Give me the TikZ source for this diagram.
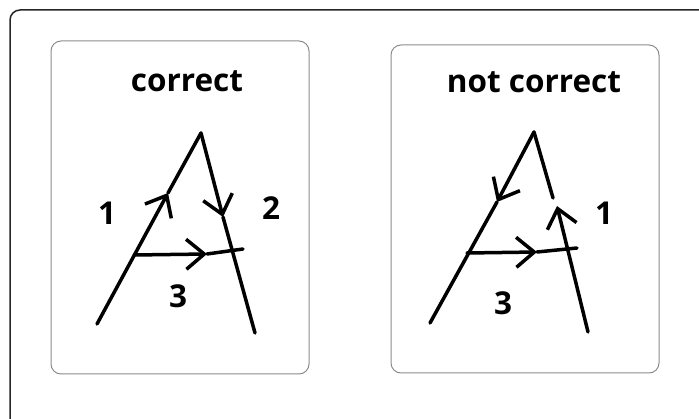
\documentclass[tikz,border=0pt]{standalone}
\usepackage{fontspec}
\setmainfont{Open Sans}
\usetikzlibrary{arrows.meta}

\tikzset{
  stroke/.style={line width=3.5pt, line cap=round, line join=round},
  barb/.style={-{Straight Barb[length=18pt,width=30pt]}},
  panel/.style={draw=black!45, line width=1pt, rounded corners=10pt},
  lbl/.style={font=\fontsize{31.5}{36}\selectfont\bfseries, inner sep=0pt, anchor=base},
}

\begin{document}
\begin{tikzpicture}[x=1pt,y=-1pt]
\useasboundingbox (0,0) rectangle (699,419);

% outer frame
\begin{scope}
  \clip (0,0) rectangle (699,419);
  \draw[black!85, line width=1.5pt, rounded corners=10pt] (10,10) rectangle (740,460);
\end{scope}

% correct
\draw[panel] (51,41) rectangle (309,374);
\node[lbl] (ok) at (187,92) {correct};
\coordinate (okTop) at (201,133);
\coordinate (okLeft) at (97,324);
\coordinate (okRight) at (255,333);
\coordinate (okTipA) at (168,193);
\coordinate (okTipB) at (223,217);
\coordinate (okBarL) at (134,255);
\coordinate (okTipC) at (207,254);
\coordinate (okBarR) at (243,249);
\draw[stroke, barb] (okLeft) -- (okTipA);
\draw[stroke] (okTipA) -- (okTop);
\draw[stroke, barb] (okTop) -- (okTipB);
\draw[stroke] (okTipB) -- (okRight);
\draw[stroke, barb] (okBarL) -- (okTipC);
\draw[stroke] (okTipC) -- (okBarR);
\node[lbl] (okOne) at (107,225) {1};
\node[lbl] (okTwo) at (271,220) {2};
\node[lbl] (okThree) at (178,308) {3};

% not correct
\draw[panel] (391,45) rectangle (659,373);
\node[lbl] (no) at (534,93) {not correct};
\coordinate (noTop) at (534,132);
\coordinate (noLeft) at (430,323);
\coordinate (noRight) at (588,332);
\coordinate (noTipA) at (497,202);
\coordinate (noGap) at (553,198);
\coordinate (noTipB) at (557,206);
\coordinate (noBarL) at (467,253);
\coordinate (noTipC) at (537,252);
\coordinate (noBarR) at (577,248);
\draw[stroke, barb] (noTop) -- (noTipA);
\draw[stroke] (noTipA) -- (noLeft);
\draw[stroke] (noTop) -- (noGap);
\draw[stroke, barb] (noRight) -- (noTipB);
\draw[stroke, barb] (noBarL) -- (noTipC);
\draw[stroke] (noTipC) -- (noBarR);
\node[lbl] (noOne) at (604,225) {1};
\node[lbl] (noThree) at (503,315) {3};
\end{tikzpicture}
\end{document}
